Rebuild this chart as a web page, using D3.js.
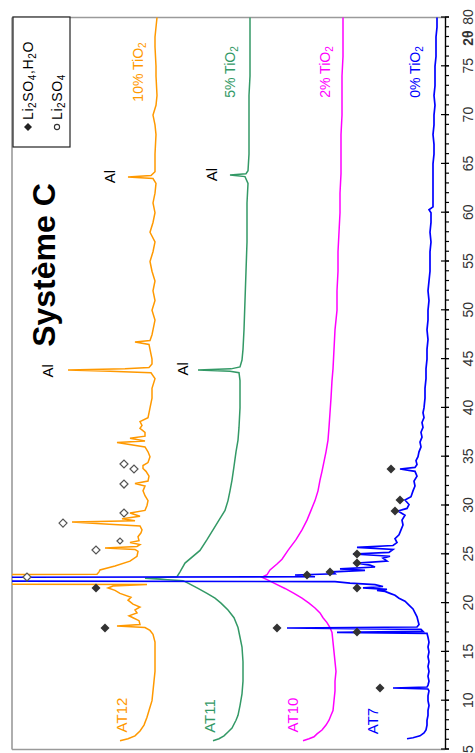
<!DOCTYPE html>
<html><head><meta charset="utf-8">
<script src="https://cdn.jsdelivr.net/npm/d3@7"></script>
<style>
body{margin:0;background:#fff}
svg{display:block;font-family:Arial,"Liberation Sans",sans-serif}
</style>
</head><body>
<svg id="c" width="475" height="753"></svg>
<script>
// ---- data (2θ in degrees, intensity in a.u., series already offset) ----
const twoThetaMajorTicks = [5,10,15,20,25,30,35,40,45,50,55,60,65,70,75,80];
const twoThetaMinorTicks = d3.range(5,81,1);

const seriesNames = ["AT12","AT11","AT10","AT7"];
const seriesTiO2 = ["10% TiO","5% TiO","2% TiO","0% TiO"];
const seriesColors = ["#FF9900","#339966","#FF00FF","#0000FF"];

const at12 = [[5.9,325],[6.1,317],[6.4,310],[6.9,305],[7.5,301],[8.3,298],[9,296],[10,293],[11,292],[12,291],[13,290],[14,290],[15,290],[16,290],[16.8,292],[17.2,295],[17.5,300],[17.65,328],[17.8,305],[18.2,306],[18.5,312],[18.7,316],[19.0,308],[19.3,310],[19.6,305],[19.9,312],[20.3,317],[20.6,314],[21.0,325],[21.3,330],[21.55,337],[21.75,332],[21.9,298],[22.0,700],[22.85,700],[22.95,348],[23.2,346],[23.4,345],[23.8,330],[24.3,315],[24.8,308],[25.3,307],[25.5,310],[25.65,340],[25.8,308],[26.0,305],[26.2,315],[26.4,306],[26.8,307],[27.2,304],[27.5,303],[27.9,305],[28.1,340],[28.3,373],[28.45,310],[28.65,323],[28.9,305],[29.23,315],[29.5,300],[30.0,298],[30.5,297],[31.0,300],[31.5,302],[32.0,300],[32.25,310],[32.5,297],[33.0,296],[33.5,299],[33.8,302],[34.1,302],[34.4,297],[35.0,295],[35.5,297],[36.0,300],[36.45,328],[36.6,300],[36.9,315],[37.1,300],[37.5,300],[37.9,305],[38.2,303],[38.6,305],[39.0,297],[39.5,296],[40,295],[41,293],[42,293],[43,290],[43.6,294],[43.75,335],[43.88,377],[44.0,320],[44.15,296],[44.5,293],[45,293],[46,295],[46.5,296],[46.76,310],[46.9,295],[47.5,293],[48,292],[49,290],[50,293],[51,290],[52,292],[53,290],[54,293],[55,295],[56,292],[57,290],[58,295],[59,292],[60,290],[61,292],[62,290],[63,289],[63.5,292],[63.66,317],[63.8,294],[64.2,290],[66,290],[68,289],[69,290],[70,292],[71,289],[72,288],[74,289],[75,289],[77,290],[78,290],[80,288]];

const at11 = [[5.9,232],[6.1,226],[6.4,221],[6.8,217],[7.2,213],[8,209],[8.5,207],[9.5,205],[10.7,203],[12,202],[14,202],[15.5,203],[16.5,205],[17.5,207],[18.5,211],[19.3,217],[20,224],[20.5,230],[21,238],[21.5,247],[22,256],[22.3,262],[22.55,300],[22.7,268],[23.2,265],[24.1,260],[25.4,245],[26.5,238],[27.5,232],[28.5,226],[29.5,220],[30.5,217],[31.5,215],[32.6,213],[34,211],[35.5,209],[36.7,207],[38,206],[40,205],[42.8,205],[43.6,206],[43.75,215],[43.88,247],[44.0,214],[44.2,205],[44.9,203],[46,202],[48,201],[51,200],[54,199],[57,198],[59.3,198],[61,198],[63,197],[63.7,200],[63.86,215],[64.0,199],[64.3,197],[66,196],[68,196],[70,196],[72,196],[74,195],[76,195],[78,195],[80,195]];

const at10 = [[5.9,142],[6.1,136],[6.3,131],[6.6,128],[7,123],[7.5,119],[8,116],[8.5,114],[9,112],[10,111],[11,110],[12,110],[13,109],[14,110],[15,111],[16,112],[17,113],[17.5,115],[18,118],[18.5,122],[19,125],[19.5,130],[20,136],[20.5,143],[21,151],[21.5,160],[22,170],[22.4,178],[22.65,183],[22.9,178],[23.4,175],[24,168],[24.5,163],[25.4,157],[26.5,149],[27.5,143],[28.5,138],[29.5,134],[30.5,130],[31.5,127],[32.6,125],[33.5,123],[34.5,121],[35.5,119],[36.7,117],[38,116],[39.5,115],[41,114],[42.8,113],[44,112],[46,111],[48,110],[50,108],[52,108],[54,107],[56,107],[58,106],[60,105],[62,105],[64,104],[66,104],[68,104],[70,103],[72,103],[74,103],[76,102],[78,102],[80,102]];

const at7 = [[6.1,38],[6.2,32],[6.4,25],[6.7,21],[7,19],[7.5,18],[8,18],[8.5,17],[9,17],[9.5,16],[10,17],[10.5,17],[11,16],[11.2,17],[11.3,52],[11.4,18],[11.6,17],[12,16],[12.5,17],[13,16],[13.5,17],[14,16],[14.5,17],[15,16],[15.5,17],[16,16],[16.5,17],[16.9,18],[17.0,108],[17.1,22],[17.3,24],[17.45,158],[17.55,28],[17.8,26],[18.2,27],[18.6,28],[19,30],[19.4,32],[19.8,36],[20.2,40],[20.5,46],[20.8,50],[21.0,55],[21.2,60],[21.3,68],[21.4,58],[21.55,82],[21.7,62],[21.9,70],[22.05,95],[22.2,110],[22.28,600],[22.62,600],[22.7,130],[22.88,150],[23.0,110],[23.2,112],[23.35,80],[23.5,105],[23.7,70],[23.9,75],[24.1,88],[24.3,58],[24.6,62],[24.8,55],[25.03,92],[25.2,56],[25.5,52],[25.7,88],[25.9,52],[26.2,48],[26.6,50],[27,46],[27.5,44],[28,42],[28.5,43],[29,40],[29.44,47],[29.7,38],[30.1,36],[30.56,40],[30.9,34],[31.5,32],[32,30],[32.5,31],[33,28],[33.5,30],[33.74,45],[33.9,30],[34.2,28],[34.6,29],[35,27],[35.5,26],[36,24],[36.5,25],[37,23],[37.5,24],[38,22],[38.5,23],[39,21],[39.5,22],[40,21],[41,20],[42,20],[43,19],[44,19],[45,18],[46,18],[47,17],[48,18],[49,17],[50,17],[51,16],[52,17],[53,16],[54,15],[55,15],[56,15],[57,14],[58,15],[59,14],[60,14],[60.3,16],[60.6,12],[61,12],[62,12],[63,12],[64,12],[65,12],[66,11],[67,11],[68,12],[69,11],[70,11],[71,10],[72,11],[73,10],[74,10],[75,10],[76,9],[77,9],[78,9],[79,8],[80,8]];

const seriesData = [at12, at11, at10, at7];

// markers: Li2SO4,H2O (filled) and Li2SO4 (open)
const hydrateMarks = [[33.74,54],[30.56,45],[29.44,50],[25.03,88],[24.1,88],[23.19,115],[22.88,138],[21.55,88],[17.45,168],[17.04,88],[11.3,65],[21.55,349],[17.45,340]];
const anhydrousMarks = [[22.67,418],[28.2,382],[25.44,349],[26.36,325],[29.23,321],[32.2,321],[34.25,321],[33.74,311]];

// Al reflection labels [2θ, intensity]
const alLabels = [[43.8,392],[63.7,330],[63.9,228],[44.0,257]];

// ---- drawing ----
const svg = d3.select("#c");
const g = svg.append("g").attr("transform","translate(0,753) rotate(-90)");
const x = d3.scaleLinear().domain([5,80]).range([3.5,735.5]);
const y = d3.scaleLinear().domain([0,433]).range([445,12]);

g.append("clipPath").attr("id","clip").append("rect")
  .attr("x",3).attr("y",12).attr("width",733).attr("height",433);

// frame (gray)
const frame = g.append("g").attr("stroke","#9a9a9a").attr("stroke-width",1.6);
frame.append("line").attr("x1",x.range()[1]).attr("x2",x.range()[1]).attr("y1",y.range()[1]).attr("y2",y.range()[0]);
frame.append("line").attr("x1",x.range()[0]).attr("x2",x.range()[1]).attr("y1",y.range()[1]).attr("y2",y.range()[1]);
frame.append("line").attr("x1",x.range()[0]).attr("x2",x.range()[0]).attr("y1",y.range()[1]).attr("y2",y.range()[0]);

// traces
const line = d3.line().x(d=>x(d[0])).y(d=>y(d[1]));
const traces = g.append("g").attr("clip-path","url(#clip)");
seriesData.forEach((s,i)=>{
  traces.append("path").datum(s).attr("d",line)
    .attr("fill","none").attr("stroke",seriesColors[i])
    .attr("stroke-width", i===3?1.7:1.5).attr("stroke-linejoin","miter");
});

// markers
const diamond = r => `M0,${-r}L${r},0L0,${r}L${-r},0Z`;
g.append("g").selectAll("path").data(hydrateMarks).join("path")
  .attr("d",diamond(4.5)).attr("fill","#333")
  .attr("transform",d=>`translate(${x(d[0])},${y(d[1])})`);
g.append("g").selectAll("path").data(anhydrousMarks).join("path")
  .attr("d",(d,i)=>diamond(i===3?3:4)).attr("fill","#fff").attr("stroke","#555").attr("stroke-width",1.2)
  .attr("transform",d=>`translate(${x(d[0])},${y(d[1])})`);

// axis (2θ)
const axG = g.append("g").attr("transform",`translate(0,${y.range()[0]})`);
axG.call(d3.axisBottom(x).tickValues(twoThetaMinorTicks).tickSize(4).tickSizeOuter(0).tickFormat(""));
const axM = g.append("g").attr("transform",`translate(0,${y.range()[0]})`);
axM.call(d3.axisBottom(x).tickValues(twoThetaMajorTicks).tickSize(4).tickSizeOuter(0).tickPadding(14).tickFormat(d3.format("d")));
axM.selectAll(".tick line").attr("y1",-4).attr("y2",4);
[axG,axM].forEach(a=>{a.selectAll("path,line").attr("stroke","#000").attr("stroke-width",1.2);});
axM.selectAll("text").attr("font-size",14).attr("fill","#333").attr("font-family","Arial, 'Liberation Sans', sans-serif");
g.append("text").attr("x",715).attr("y",y.range()[0]+28).attr("text-anchor","middle")
  .attr("font-size",14).attr("fill","#333").attr("font-weight","bold").text("2θ");

// helper for sub-scripted text
function subText(sel, parts, size){
  parts.forEach(p=>{
    if(typeof p==="string"){ sel.append("tspan").attr("font-size",size).attr("baseline-shift","0").text(p); }
    else { sel.append("tspan").attr("font-size",size*0.72).attr("baseline-shift","-25%").text(p.sub); }
  });
}

// title
g.append("text").attr("x",488).attr("y",55).attr("text-anchor","middle")
  .attr("font-size",32).attr("font-weight","bold").attr("fill","#000").text("Système C");

// Al labels
g.append("g").selectAll("text").data(alLabels).join("text")
  .attr("x",d=>x(d[0])).attr("y",d=>y(d[1])).attr("text-anchor","middle")
  .attr("font-size",15).attr("fill","#000").text("Al");

// series TiO2 labels and sample labels
const tioPos = [[143],[235],[330],[420]];
seriesTiO2.forEach((t,i)=>{
  const tx = g.append("text").attr("x",681).attr("y",tioPos[i][0]).attr("text-anchor","middle").attr("fill",seriesColors[i]);
  subText(tx,[t,{sub:"2"}],14);
});
const namePos = [[38,127],[37,215],[38,298],[32,378]];
seriesNames.forEach((t,i)=>{
  g.append("text").attr("x",namePos[i][0]).attr("y",namePos[i][1]).attr("text-anchor","middle")
    .attr("font-size",15).attr("fill",seriesColors[i]).text(t);
});

// legend
const lg = g.append("g");
lg.append("rect").attr("x",606).attr("y",13).attr("width",130).attr("height",57)
  .attr("fill","#fff").attr("stroke","#222").attr("stroke-width",1.2);
lg.append("path").attr("d",diamond(4)).attr("fill","#222").attr("transform","translate(626,28)");
lg.append("circle").attr("cx",626).attr("cy",57).attr("r",2.6).attr("fill","#fff").attr("stroke","#333").attr("stroke-width",1.1);
const l1 = lg.append("text").attr("x",633).attr("y",33).attr("fill","#000").attr("letter-spacing",0.6);
subText(l1,["Li",{sub:"2"},"SO",{sub:"4"},",H",{sub:"2"},"O"],14);
const l2 = lg.append("text").attr("x",633).attr("y",62).attr("fill","#000").attr("letter-spacing",0.6);
subText(l2,["Li",{sub:"2"},"SO",{sub:"4"}],14);
</script>
</body></html>
